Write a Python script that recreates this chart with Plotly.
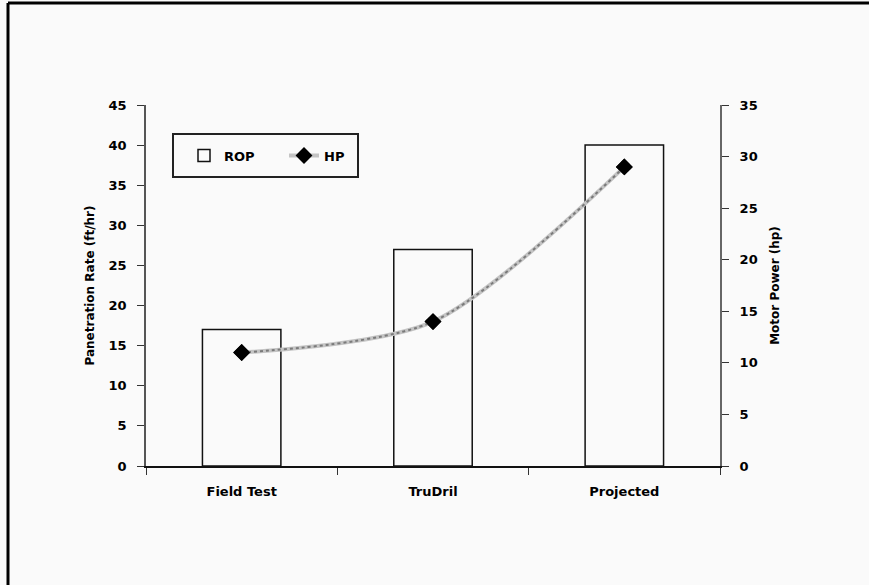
import plotly.graph_objects as go

# Chart data
categories = ["Field Test", "TruDril", "Projected"]
rop_values = [17, 27, 40]      # penetration rate, ft/hr
hp_values = [11, 14, 29]       # motor power, hp
left_ticks = list(range(0, 50, 5))
right_ticks = list(range(0, 40, 5))

FONT = "DejaVu Sans, Arial, sans-serif"
BG = "#fafafa"

fig = go.Figure()

fig.add_trace(go.Bar(
    x=categories, y=rop_values, name="ROP",
    width=0.41,
    marker=dict(color=BG, line=dict(color="#111111", width=1.5)),
    yaxis="y",
))

# Textured grey curve: light base with a darker dotted overlay
fig.add_trace(go.Scatter(
    x=categories, y=hp_values, name="HP",
    mode="lines+markers",
    line=dict(color="#c4c4c4", width=4, shape="spline", smoothing=0.8),
    marker=dict(symbol="diamond", size=13, color="black"),
    yaxis="y2",
))
fig.add_trace(go.Scatter(
    x=categories, y=hp_values, showlegend=False, hoverinfo="skip",
    mode="lines",
    line=dict(color="#7a7a7a", width=2, dash="dot", shape="spline", smoothing=0.8),
    yaxis="y2",
))
fig.add_trace(go.Scatter(
    x=categories, y=hp_values, showlegend=False, hoverinfo="skip",
    mode="markers",
    marker=dict(symbol="diamond", size=13, color="black"),
    yaxis="y2",
))

# Plot area bounds (pixels)
L, R, T, B = 146, 720, 105, 466
W, H = 869, 585

def px_x(x):
    return (x - L) / (R - L)

def px_y(y):
    return (B - y) / (B - T)

shapes = [
    # Outer frame (left and top edges)
    dict(type="line", xref="paper", yref="paper",
         x0=px_x(8), x1=px_x(8), y0=px_y(600), y1=px_y(3),
         line=dict(color="black", width=3)),
    dict(type="line", xref="paper", yref="paper",
         x0=px_x(8), x1=px_x(900), y0=px_y(3), y1=px_y(3),
         line=dict(color="black", width=3)),
    # Legend box
    dict(type="rect", xref="paper", yref="paper",
         x0=px_x(173), x1=px_x(358), y0=px_y(177), y1=px_y(134),
         line=dict(color="#222222", width=2), fillcolor=BG, layer="below"),
]

fig.update_layout(
    width=W, height=H,
    margin=dict(l=L, r=W - R, t=T, b=H - B, pad=0),
    paper_bgcolor=BG, plot_bgcolor=BG,
    font=dict(family=FONT, size=12, color="black", weight="bold"),
    shapes=shapes,
    showlegend=True,
    legend=dict(
        orientation="h",
        x=px_x(184), y=px_y(155.5), xanchor="left", yanchor="middle",
        bgcolor="rgba(0,0,0,0)", borderwidth=0,
        font=dict(family=FONT, size=13, color="black", weight="bold"),
        entrywidth=55, entrywidthmode="pixels",
    ),
    xaxis=dict(
        type="category",
        showline=True, linecolor="#111111", linewidth=2,
        ticks="outside", ticklen=7, tickcolor="#333333",
        tickson="boundaries",
        ticklabelstandoff=12,
        showgrid=False, zeroline=False,
        tickfont=dict(family=FONT, size=13, weight="bold"),
        range=[-0.5, 2.5],
    ),
    yaxis=dict(
        range=[0, 45], tickvals=left_ticks, showgrid=False, zeroline=False,
        showline=True, linecolor="#555555", linewidth=1.5,
        ticks="outside", ticklen=7, tickcolor="#333333",
        ticklabelstandoff=8,
        tickfont=dict(family=FONT, size=13, weight="bold"),
        title=dict(text="Panetration Rate (ft/hr)", standoff=11,
                   font=dict(family=FONT, size=12, weight="bold")),
    ),
    yaxis2=dict(
        range=[0, 35], tickvals=right_ticks, overlaying="y", side="right",
        showgrid=False, zeroline=False,
        showline=True, linecolor="#666666", linewidth=2,
        ticks="outside", ticklen=7, tickcolor="#333333",
        ticklabelstandoff=8,
        tickfont=dict(family=FONT, size=13, weight="bold"),
        title=dict(text="Motor Power (hp)", standoff=14,
                   font=dict(family=FONT, size=12, weight="bold")),
    ),
)

fig.write_html("out.html")
